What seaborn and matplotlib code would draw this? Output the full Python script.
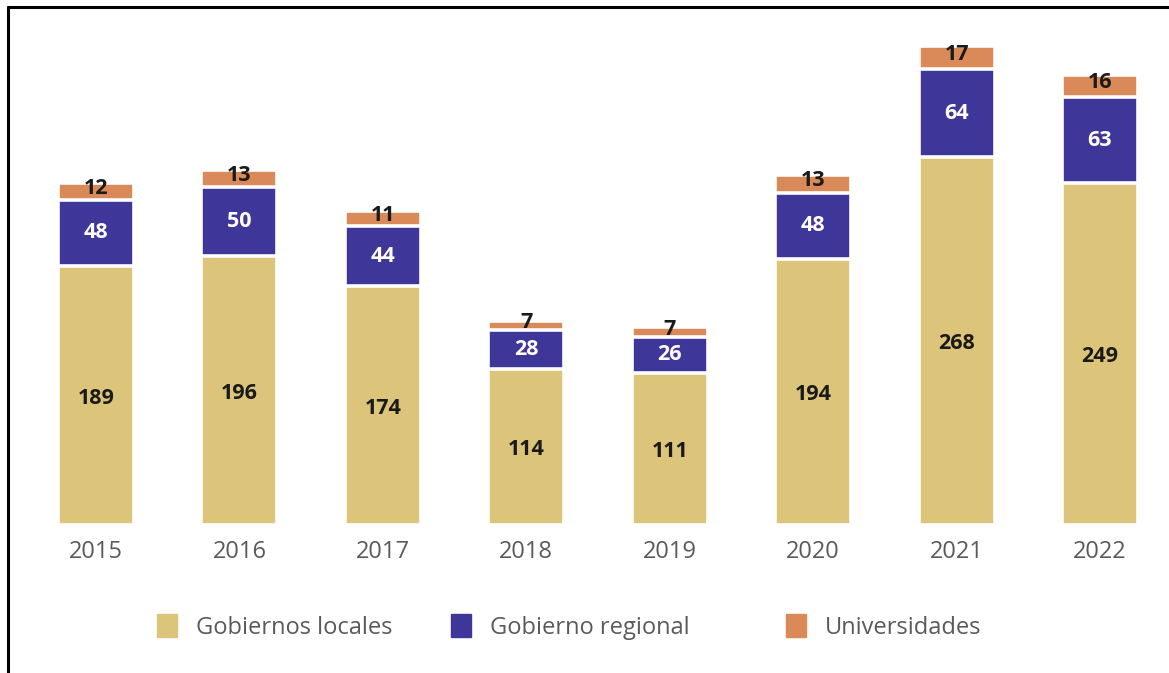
import matplotlib
matplotlib.use("Agg")
import matplotlib.pyplot as plt
import matplotlib.patches as mpatches
from matplotlib.lines import Line2D
import seaborn as sns
import pandas as pd

# Datos del gráfico
anios = ['2015', '2016', '2017', '2018', '2019', '2020', '2021', '2022']
gob_locales = [189, 196, 174, 114, 111, 194, 268, 249]
gob_regional = [48, 50, 44, 28, 26, 48, 64, 63]
universidades = [12, 13, 11, 7, 7, 13, 17, 16]

series = ['Gobiernos locales', 'Gobierno regional', 'Universidades']
colores = ['#DCC47A', '#3F3699', '#D98A58']
color_texto = ['#1a1a1a', 'white', '#1a1a1a']

df = pd.DataFrame({'anio': anios, series[0]: gob_locales,
                   series[1]: gob_regional, series[2]: universidades})

sns.set_style('white')
plt.rcParams['font.family'] = ['Open Sans', 'DejaVu Sans']

fig = plt.figure(figsize=(11.69, 6.73), dpi=100)
ax = fig.add_axes([31.5 / 1169, 148 / 673, 1133 / 1169, 494 / 673])

# barras apiladas: se dibujan los acumulados desde cero
base = [0] * len(anios)
for serie, color in zip(series, colores):
    valores = df[serie].tolist()
    acumulado = [b + v for b, v in zip(base, valores)]
    sns.barplot(x=df['anio'], y=acumulado, ax=ax, color=color, width=0.53,
                edgecolor='white', linewidth=2.6, saturation=1)
    base = acumulado

# los segmentos inferiores deben quedar por encima
for i, cont in enumerate(ax.containers):
    for p in cont:
        p.set_zorder(10 - i)

# etiquetas de valores
base = [0] * len(anios)
for serie, ctext in zip(series, color_texto):
    valores = df[serie].tolist()
    for i, v in enumerate(valores):
        if serie == 'Universidades':
            y = base[i] + v / 2 + 2.3
        elif serie == 'Gobiernos locales':
            y = base[i] + v * 0.5 - 2
        else:
            y = base[i] + v / 2
        ax.text(i, y, str(v), ha='center', va='center', color=ctext,
                fontsize=15.5, fontweight='bold', zorder=20)
    base = [b + v for b, v in zip(base, valores)]

ax.set_xlim(-0.45, 7.45)
ax.set_ylim(0, 360)
ax.set_xlabel('')
ax.set_ylabel('')
ax.set_yticks([])
ax.tick_params(axis='x', length=0, pad=11, labelsize=17, labelcolor='#5a5a5a')
sns.despine(ax=ax, left=True, bottom=True)

# leyenda, un elemento por posición
pos_leyenda = [157, 451, 786]
for serie, color, x in zip(series, colores, pos_leyenda):
    leg = fig.legend(handles=[mpatches.Patch(color=color, label=serie)],
                     loc='center left', bbox_to_anchor=(x / 1169, 1 - 627 / 673),
                     frameon=False, fontsize=17, handlelength=0.85, handleheight=1.1,
                     handletextpad=0.8, borderaxespad=0, borderpad=0,
                     labelcolor='#5a5a5a')

# marco de la imagen
fig.add_artist(Line2D([8 / 1169, 1169 / 1169], [1 - 7 / 673, 1 - 7 / 673],
                      color='black', linewidth=2.2, transform=fig.transFigure))
fig.add_artist(Line2D([8 / 1169, 8 / 1169], [0, 1 - 7 / 673],
                      color='black', linewidth=2.2, transform=fig.transFigure))

fig.savefig('out.png', dpi=100)
